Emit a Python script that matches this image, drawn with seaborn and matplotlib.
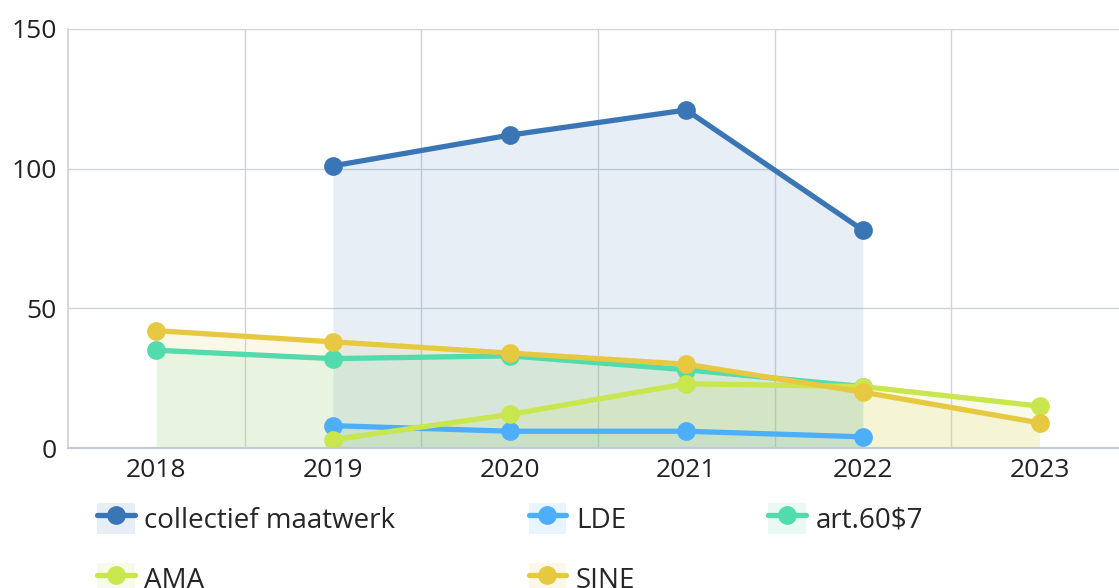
import numpy as np
import pandas as pd
import matplotlib
matplotlib.use("Agg")
import matplotlib.pyplot as plt
import seaborn as sns
from matplotlib.lines import Line2D
from matplotlib.patches import Patch
from matplotlib.legend_handler import HandlerTuple

years = [2018, 2019, 2020, 2021, 2022, 2023]
series_names = ["collectief maatwerk", "LDE", "art.60$7", "AMA", "SINE"]
collectief = [np.nan, 101, 112, 121, 78, np.nan]
lde = [np.nan, 8, 6, 6, 4, np.nan]
art607 = [35, 32, 33, 28, 22, np.nan]
ama = [np.nan, 3, 12, 23, 22, 15]
sine = [42, 38, 34, 30, 20, 9]
colors = ["#3a76b5", "#4daefc", "#52dbad", "#c9e64e", "#e7c941"]

df = pd.DataFrame({"year": years, "collectief maatwerk": collectief, "LDE": lde,
                   "art.60$7": art607, "AMA": ama, "SINE": sine})
long = df.melt(id_vars="year", var_name="serie", value_name="waarde").dropna()

sns.set_theme(style="white")
plt.rcParams["font.family"] = ["Open Sans", "DejaVu Sans"]

fig = plt.figure(figsize=(11.19, 5.88), dpi=100)
ax = fig.add_axes([68 / 1119, 1 - 448 / 588, 1 - 68 / 1119, (448 - 29) / 588])

for name, col in zip(series_names, colors):
    d = long[long["serie"] == name]
    ax.fill_between(d["year"], 0, d["waarde"], color=col, alpha=0.12, lw=0)
    sns.lineplot(data=d, x="year", y="waarde", color=col, lw=3.8, marker="o",
                 markersize=13.5, markeredgewidth=0, ax=ax, legend=False)

ax.set_xlim(2017.5, 2023.45)
ax.set_ylim(0, 150)
ax.set_yticks([0, 50, 100, 150])
ax.set_xticks(years)
ax.set_xticks(np.arange(2018.5, 2023.5, 1), minor=True)
ax.grid(which="minor", axis="x", color="#cfd3de", lw=1)
ax.grid(which="major", axis="y", color="#cfd3de", lw=1)
ax.set_xlabel("")
ax.set_ylabel("")
for s in ["top", "right"]:
    ax.spines[s].set_visible(False)
ax.spines["left"].set_color("#cfd3de")
ax.spines["bottom"].set_color("#c3c8d6")
ax.spines["bottom"].set_linewidth(1.5)
ax.tick_params(axis="both", length=0, labelsize=19, colors="#222222")
ax.tick_params(axis="x", pad=7)
ax.tick_params(axis="y", pad=8)

# legend laid out row by row: matplotlib fills columns first
order = [0, 3, 1, 4, 2]
handles, labels = [], []
for i in order:
    col = colors[i]
    bg = Patch(facecolor=col, alpha=0.12, lw=0)
    ln = Line2D([], [], color=col, lw=3.8, marker="o", markersize=13.5, markeredgewidth=0)
    handles.append((bg, ln))
    labels.append(series_names[i])

fig.legend(handles, labels, handler_map={tuple: HandlerTuple(ndivide=1, pad=0)},
           loc="upper left", bbox_to_anchor=(97 / 1119, 1 - 503 / 588), ncol=3,
           frameon=False, fontsize=20, handlelength=1.35, handleheight=1.35,
           handletextpad=0.35, columnspacing=4.8, labelspacing=1.0,
           borderaxespad=0, borderpad=0)

fig.savefig("out.png", dpi=100)
